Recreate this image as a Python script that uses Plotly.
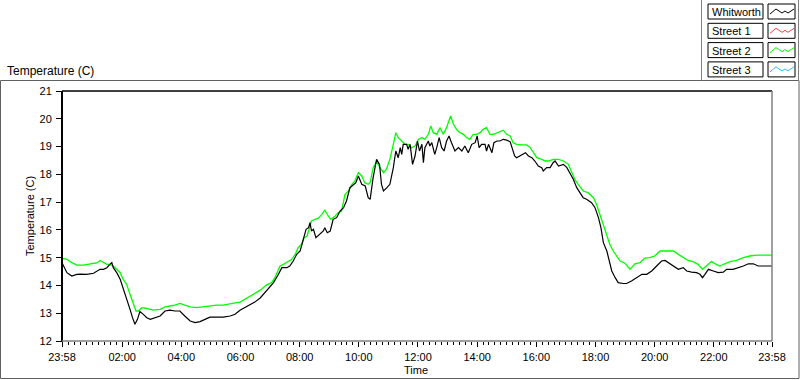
import plotly.graph_objects as go

# ---- data (time in minutes after 23:58 of previous day) ----
whit_t = [0,10,20,30,37,50,64,70,77,84,91,97,101,104,111,118,124,131,138,143,148,153,158,165,172,179,189,199,209,219,229,239,249,260,270,280,290,300,314,327,341,351,361,371,381,391,402,415,429,439,446,456,462,469,476,483,489,495,500,503,506,510,515,523,530,533,538,544,550,557,564,571,577,584,591,596,601,608,615,621,625,631,638,644,648,652,659,665,672,677,682,686,689,692,699,702,706,711,716,721,725,730,733,736,743,746,750,756,760,765,770,775,780,785,790,797,804,811,817,824,831,838,842,846,851,858,861,865,872,876,882,888,895,902,909,914,918,922,929,936,940,946,953,959,966,973,976,983,990,996,1000,1007,1017,1024,1030,1037,1044,1051,1057,1064,1074,1081,1088,1093,1098,1105,1110,1115,1122,1128,1138,1145,1155,1166,1176,1186,1196,1206,1216,1223,1230,1240,1250,1260,1267,1277,1287,1294,1299,1304,1311,1321,1331,1341,1348,1361,1372,1382,1392,1402,1412,1429,1440]
whit_v = [14.82,14.46,14.34,14.40,14.41,14.40,14.44,14.52,14.58,14.58,14.64,14.76,14.82,14.64,14.46,14.22,13.92,13.50,13.14,12.84,12.60,12.78,13.06,12.96,12.84,12.78,12.84,12.90,13.08,13.11,13.08,13.08,12.90,12.72,12.66,12.70,12.78,12.86,12.86,12.86,12.90,12.96,13.11,13.20,13.30,13.40,13.55,13.83,14.10,14.40,14.64,14.64,14.70,14.88,15.12,15.24,15.60,16.02,16.08,16.26,15.96,16.02,15.72,15.84,15.96,16.08,15.90,15.96,16.38,16.44,16.68,16.80,17.04,17.52,17.64,17.70,17.94,17.64,17.58,17.16,17.10,17.88,18.54,18.36,17.64,17.40,17.52,17.64,18.24,18.84,18.60,18.96,18.72,19.08,19.08,18.90,19.08,18.36,18.66,19.20,18.84,19.08,18.42,18.96,19.20,19.02,19.14,18.72,18.96,19.32,18.96,18.84,19.20,19.38,19.14,18.84,18.96,18.84,19.02,18.78,19.08,19.14,19.38,18.96,19.08,19.08,18.84,19.08,18.78,19.14,19.20,19.20,19.26,19.23,19.17,18.85,18.66,18.60,18.66,18.72,18.78,18.66,18.60,18.48,18.30,18.24,18.12,18.24,18.24,18.42,18.48,18.30,18.36,18.24,18.06,17.82,17.52,17.34,17.16,17.10,16.98,16.80,16.44,16.08,15.54,15.24,14.88,14.52,14.28,14.10,14.07,14.07,14.16,14.28,14.40,14.40,14.52,14.70,14.88,14.90,14.82,14.70,14.58,14.64,14.52,14.48,14.46,14.40,14.28,14.40,14.58,14.52,14.46,14.48,14.58,14.58,14.64,14.70,14.78,14.78,14.70,14.70,14.70]

st2_t = [0,10,20,30,43,53,64,72,77,84,91,97,104,111,118,124,131,138,145,150,155,162,172,185,199,209,219,229,239,249,260,273,287,300,314,327,341,354,361,371,381,391,402,415,425,432,442,449,459,466,473,479,486,491,497,506,513,520,527,533,540,545,554,560,567,574,581,588,594,601,608,614,621,625,631,638,645,652,658,665,672,677,682,689,696,702,709,716,723,730,736,743,748,753,760,767,773,780,788,794,800,807,814,821,827,834,841,848,854,861,868,875,882,888,895,902,909,915,922,932,942,949,956,963,973,980,987,996,1007,1017,1027,1034,1040,1047,1057,1067,1078,1084,1091,1098,1105,1111,1118,1125,1132,1142,1152,1162,1172,1182,1192,1202,1213,1226,1240,1250,1260,1270,1280,1290,1299,1307,1317,1327,1334,1344,1355,1368,1382,1395,1409,1422,1440]
st2_v = [14.98,14.94,14.82,14.73,14.73,14.76,14.78,14.82,14.90,14.82,14.76,14.76,14.70,14.58,14.46,14.22,14.04,13.68,13.32,13.08,13.08,13.20,13.17,13.11,13.14,13.23,13.26,13.29,13.35,13.29,13.23,13.20,13.23,13.26,13.29,13.29,13.35,13.38,13.40,13.50,13.60,13.70,13.83,14.02,14.10,14.28,14.70,14.76,14.88,14.94,15.12,15.36,15.48,15.72,15.78,16.32,16.38,16.42,16.56,16.71,16.50,16.38,16.50,16.62,16.68,17.28,17.40,17.64,17.76,18.06,17.94,17.70,17.64,17.70,18.24,18.45,18.24,18.06,18.18,18.54,19.08,19.50,19.32,19.20,19.08,19.08,18.96,19.02,19.26,19.32,19.26,19.44,19.74,19.50,19.44,19.68,19.44,19.68,20.10,19.80,19.62,19.50,19.44,19.32,19.26,19.44,19.44,19.50,19.62,19.68,19.44,19.44,19.50,19.56,19.59,19.44,19.38,19.14,19.08,19.06,19.06,18.98,18.78,18.60,18.54,18.48,18.48,18.54,18.54,18.48,18.36,18.06,17.82,17.64,17.40,17.34,17.16,16.92,16.56,16.20,15.78,15.48,15.24,15.06,14.88,14.80,14.58,14.78,14.82,14.98,15.00,15.06,15.24,15.24,15.24,15.12,15.00,14.90,14.86,14.76,14.58,14.70,14.86,14.76,14.70,14.78,14.86,14.90,15.00,15.06,15.09,15.09,15.09]

st1_t, st1_v = [], []
st3_t, st3_v = [], []

tick_vals = [0,122,242,362,482,602,722,842,962,1082,1202,1322,1440]
tick_text = ["23:58","02:00","04:00","06:00","08:00","10:00","12:00","14:00","16:00","18:00","20:00","22:00","23:58"]
y_ticks = [12,13,14,15,16,17,18,19,20,21]

legend_names = ["Whitworth","Street 1","Street 2","Street 3"]
legend_colors = ["#000000","#ff4040","#00ff00","#33bbff"]

# ---- layout helpers (pixel -> paper) ----
L, R, T, B = 62, 772, 91, 341
W, H = 800, 380
def px(x): return (x - L) / (R - L)
def py(y): return (B - y) / (B - T)

FONT = "Liberation Sans, Arial, sans-serif"

fig = go.Figure()
fig.add_trace(go.Scatter(x=st1_t, y=st1_v, mode="lines", line=dict(color=legend_colors[1], width=1), name="Street 1", showlegend=False))
fig.add_trace(go.Scatter(x=st3_t, y=st3_v, mode="lines", line=dict(color=legend_colors[3], width=1), name="Street 3", showlegend=False))
fig.add_trace(go.Scatter(x=st2_t, y=st2_v, mode="lines", line=dict(color=legend_colors[2], width=1.3), name="Street 2", showlegend=False))
fig.add_trace(go.Scatter(x=whit_t, y=whit_v, mode="lines", line=dict(color=legend_colors[0], width=1.2), name="Whitworth", showlegend=False))

shapes = []
# outer frame
shapes.append(dict(type="rect", xref="paper", yref="paper", x0=px(0.5), x1=px(799), y0=py(80.5), y1=py(378.5),
                   line=dict(color="#606060", width=1), layer="below"))
# legend panel side lines
shapes.append(dict(type="line", xref="paper", yref="paper", x0=px(701.5), x1=px(701.5), y0=py(0), y1=py(80.5), line=dict(color="#808080", width=1)))
shapes.append(dict(type="line", xref="paper", yref="paper", x0=px(798.5), x1=px(798.5), y0=py(0), y1=py(80.5), line=dict(color="#808080", width=1)))
# plot area borders
shapes.append(dict(type="line", xref="paper", yref="paper", x0=px(L), x1=px(R), y0=py(T), y1=py(T), line=dict(color="#000000", width=1.5)))
shapes.append(dict(type="line", xref="paper", yref="paper", x0=px(L), x1=px(L), y0=py(T), y1=py(B + 1), line=dict(color="#000000", width=2)))
shapes.append(dict(type="line", xref="paper", yref="paper", x0=px(R), x1=px(R), y0=py(T), y1=py(B), line=dict(color="#808080", width=1.5)))
shapes.append(dict(type="line", xref="paper", yref="paper", x0=px(L), x1=px(R), y0=py(B), y1=py(B), line=dict(color="#808080", width=1.5)))

annotations = []
# legend boxes
for i, (name, col) in enumerate(zip(legend_names, legend_colors)):
    top = 4 + 19.3 * i
    bot = top + 15
    shapes.append(dict(type="rect", xref="paper", yref="paper", x0=px(708), x1=px(763), y0=py(top), y1=py(bot),
                       line=dict(color="#000000", width=1), fillcolor="white"))
    shapes.append(dict(type="rect", xref="paper", yref="paper", x0=px(768), x1=px(795), y0=py(top), y1=py(bot),
                       line=dict(color="#000000", width=1), fillcolor="white"))
    zz = [(770, 10), (776, 5), (782, 9), (785, 7), (788, 9), (794, 5)]
    path = "M " + " L ".join(f"{px(a):.5f},{py(top + b):.5f}" for a, b in zz)
    shapes.append(dict(type="path", xref="paper", yref="paper", path=path, line=dict(color=col, width=1)))
    annotations.append(dict(text=name, xref="paper", yref="paper", x=px(710), y=py(top + 8), xanchor="left", yanchor="middle",
                            showarrow=False, font=dict(family=FONT, size=11, color="black")))

annotations.append(dict(text="Temperature (C)", xref="paper", yref="paper", x=px(5), y=py(71), xanchor="left", yanchor="middle",
                        showarrow=False, font=dict(family=FONT, size=12, color="black")))
# y-axis title
annotations.append(dict(text="Temperature (C)", xref="paper", yref="paper", x=px(30), y=py(216), xanchor="center", yanchor="middle",
                        textangle=-90, showarrow=False, font=dict(family=FONT, size=11, color="black")))
# x-axis title
annotations.append(dict(text="Time", xref="paper", yref="paper", x=px(416), y=py(370), xanchor="center", yanchor="middle",
                        showarrow=False, font=dict(family=FONT, size=11, color="black")))

fig.update_layout(
    width=W, height=H,
    margin=dict(l=L, r=W - R, t=T, b=H - B, pad=0),
    paper_bgcolor="white", plot_bgcolor="white",
    showlegend=False,
    shapes=shapes, annotations=annotations,
    font=dict(family=FONT, size=11, color="black"),
    xaxis=dict(range=[0, 1440], tickmode="array", tickvals=tick_vals, ticktext=tick_text,
               showgrid=False, zeroline=False, showline=False, automargin=False,
               ticks="outside", ticklen=5, tickcolor="black", tickwidth=1,
               ticklabelstandoff=1,
               minor=dict(tick0=2, dtick=12, ticks="outside", ticklen=3, tickcolor="black", showgrid=False),
               tickfont=dict(family=FONT, size=11)),
    yaxis=dict(range=[12, 21], tickmode="array", tickvals=y_ticks, ticktext=[str(v) for v in y_ticks],
               showgrid=False, zeroline=False, showline=False, automargin=False,
               ticks="outside", ticklen=5, tickcolor="black", tickwidth=1,
               ticklabelstandoff=2,
               tickfont=dict(family=FONT, size=11)),
)

fig.write_html("out.html", config={"displayModeBar": False},
               post_script="document.body.style.margin='0';document.body.style.overflow='hidden';")
